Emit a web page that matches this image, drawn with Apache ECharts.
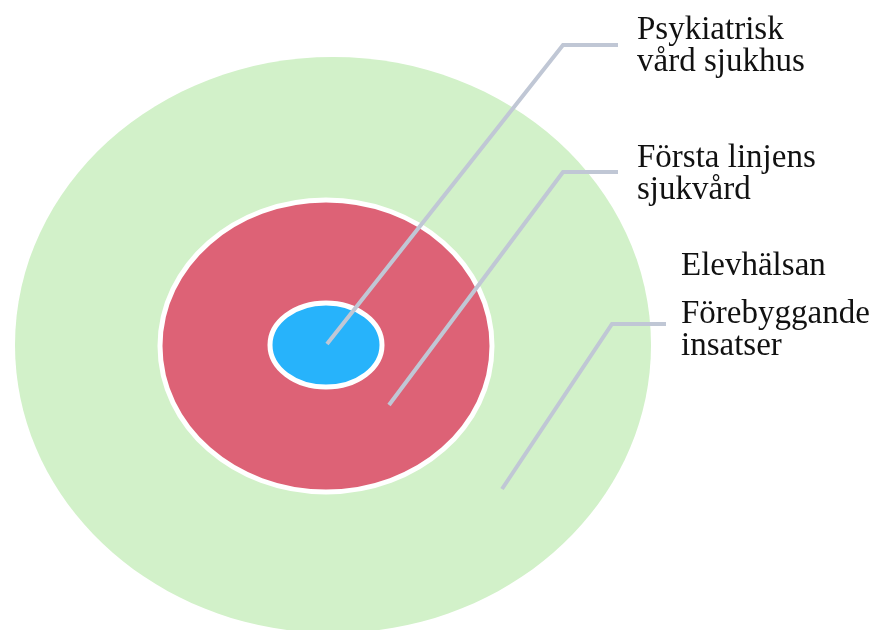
<!DOCTYPE html>
<html>
<head>
<meta charset="UTF-8">
<title></title>
<script src="https://cdn.jsdelivr.net/npm/echarts@6/dist/echarts.min.js"></script>
<style>
  html, body { margin: 0; padding: 0; background: #fff; }
</style>
</head>
<body>
<div id="rings" style="width: 876px; height: 630px;"></div>
<script type="text/javascript">
// rings, outer to inner (diagram units = page px)
var ringNames = ['Förebyggande insatser', 'Första linjens sjukvård', 'Psykiatrisk vård sjukhus'];
var ringCx = [333, 326, 326];
var ringCy = [345, 346, 345];
var ringRx = [318, 166, 56];
var ringRy = [288, 146, 42];

// leader lines: start inside ring -> elbow -> end near label
var leaderStart = [[327, 344], [389, 405], [502, 489]];
var leaderElbow = [[563, 45], [563, 172], [612, 324]];
var leaderEnd = [[618, 45], [618, 172], [666, 324]];

// labels
var labelTexts = ['Psykiatrisk\nvård sjukhus', 'Första linjens\nsjukvård', 'Elevhälsan', 'Förebyggande\ninsatser'];
var labelX = [637, 637, 681, 681];
var labelY = [14, 142, 250, 298];

var ringFill = ['#d2f1c9', '#dd6276', '#27b3fb'];
var ringStroke = [null, '#ffffff', '#ffffff'];

var chart = echarts.init(document.getElementById('rings'));

var ringData = ringNames.map(function (n, i) {
  return { name: n, value: [ringCx[i], ringCy[i], ringRx[i], ringRy[i]] };
});
var leaderData = leaderStart.map(function (s, i) {
  return { coords: [s, leaderElbow[i], leaderEnd[i]] };
});
var labelData = labelTexts.map(function (t, i) {
  return { name: t, value: [labelX[i], labelY[i]] };
});

chart.setOption({
  animation: false,
  grid: { left: 0, right: 0, top: 0, bottom: 0 },
  xAxis: { type: 'value', min: 0, max: 876, show: false },
  yAxis: { type: 'value', min: 0, max: 630, inverse: true, show: false },
  series: [
    {
      type: 'custom',
      coordinateSystem: 'cartesian2d',
      data: ringData,
      z: 1,
      renderItem: function (params, api) {
        var i = params.dataIndex;
        var c = api.coord([api.value(0), api.value(1)]);
        var size = api.size([api.value(2), api.value(3)]);
        return {
          type: 'ellipse',
          shape: { cx: c[0], cy: c[1], rx: size[0], ry: size[1] },
          style: {
            fill: ringFill[i],
            stroke: ringStroke[i],
            lineWidth: ringStroke[i] ? 5 : 0
          }
        };
      }
    },
    {
      type: 'lines',
      coordinateSystem: 'cartesian2d',
      polyline: true,
      z: 2,
      data: leaderData,
      lineStyle: { color: '#c0c7d5', width: 4, opacity: 1 }
    },
    {
      type: 'custom',
      coordinateSystem: 'cartesian2d',
      data: labelData,
      z: 3,
      renderItem: function (params, api) {
        var c = api.coord([api.value(0), api.value(1)]);
        return {
          type: 'text',
          x: c[0],
          y: c[1],
          style: {
            text: labelTexts[params.dataIndex],
            fill: '#111111',
            font: '33px "Liberation Serif"',
            lineHeight: 32,
            align: 'left',
            verticalAlign: 'top'
          }
        };
      }
    }
  ]
});
</script>
</body>
</html>
